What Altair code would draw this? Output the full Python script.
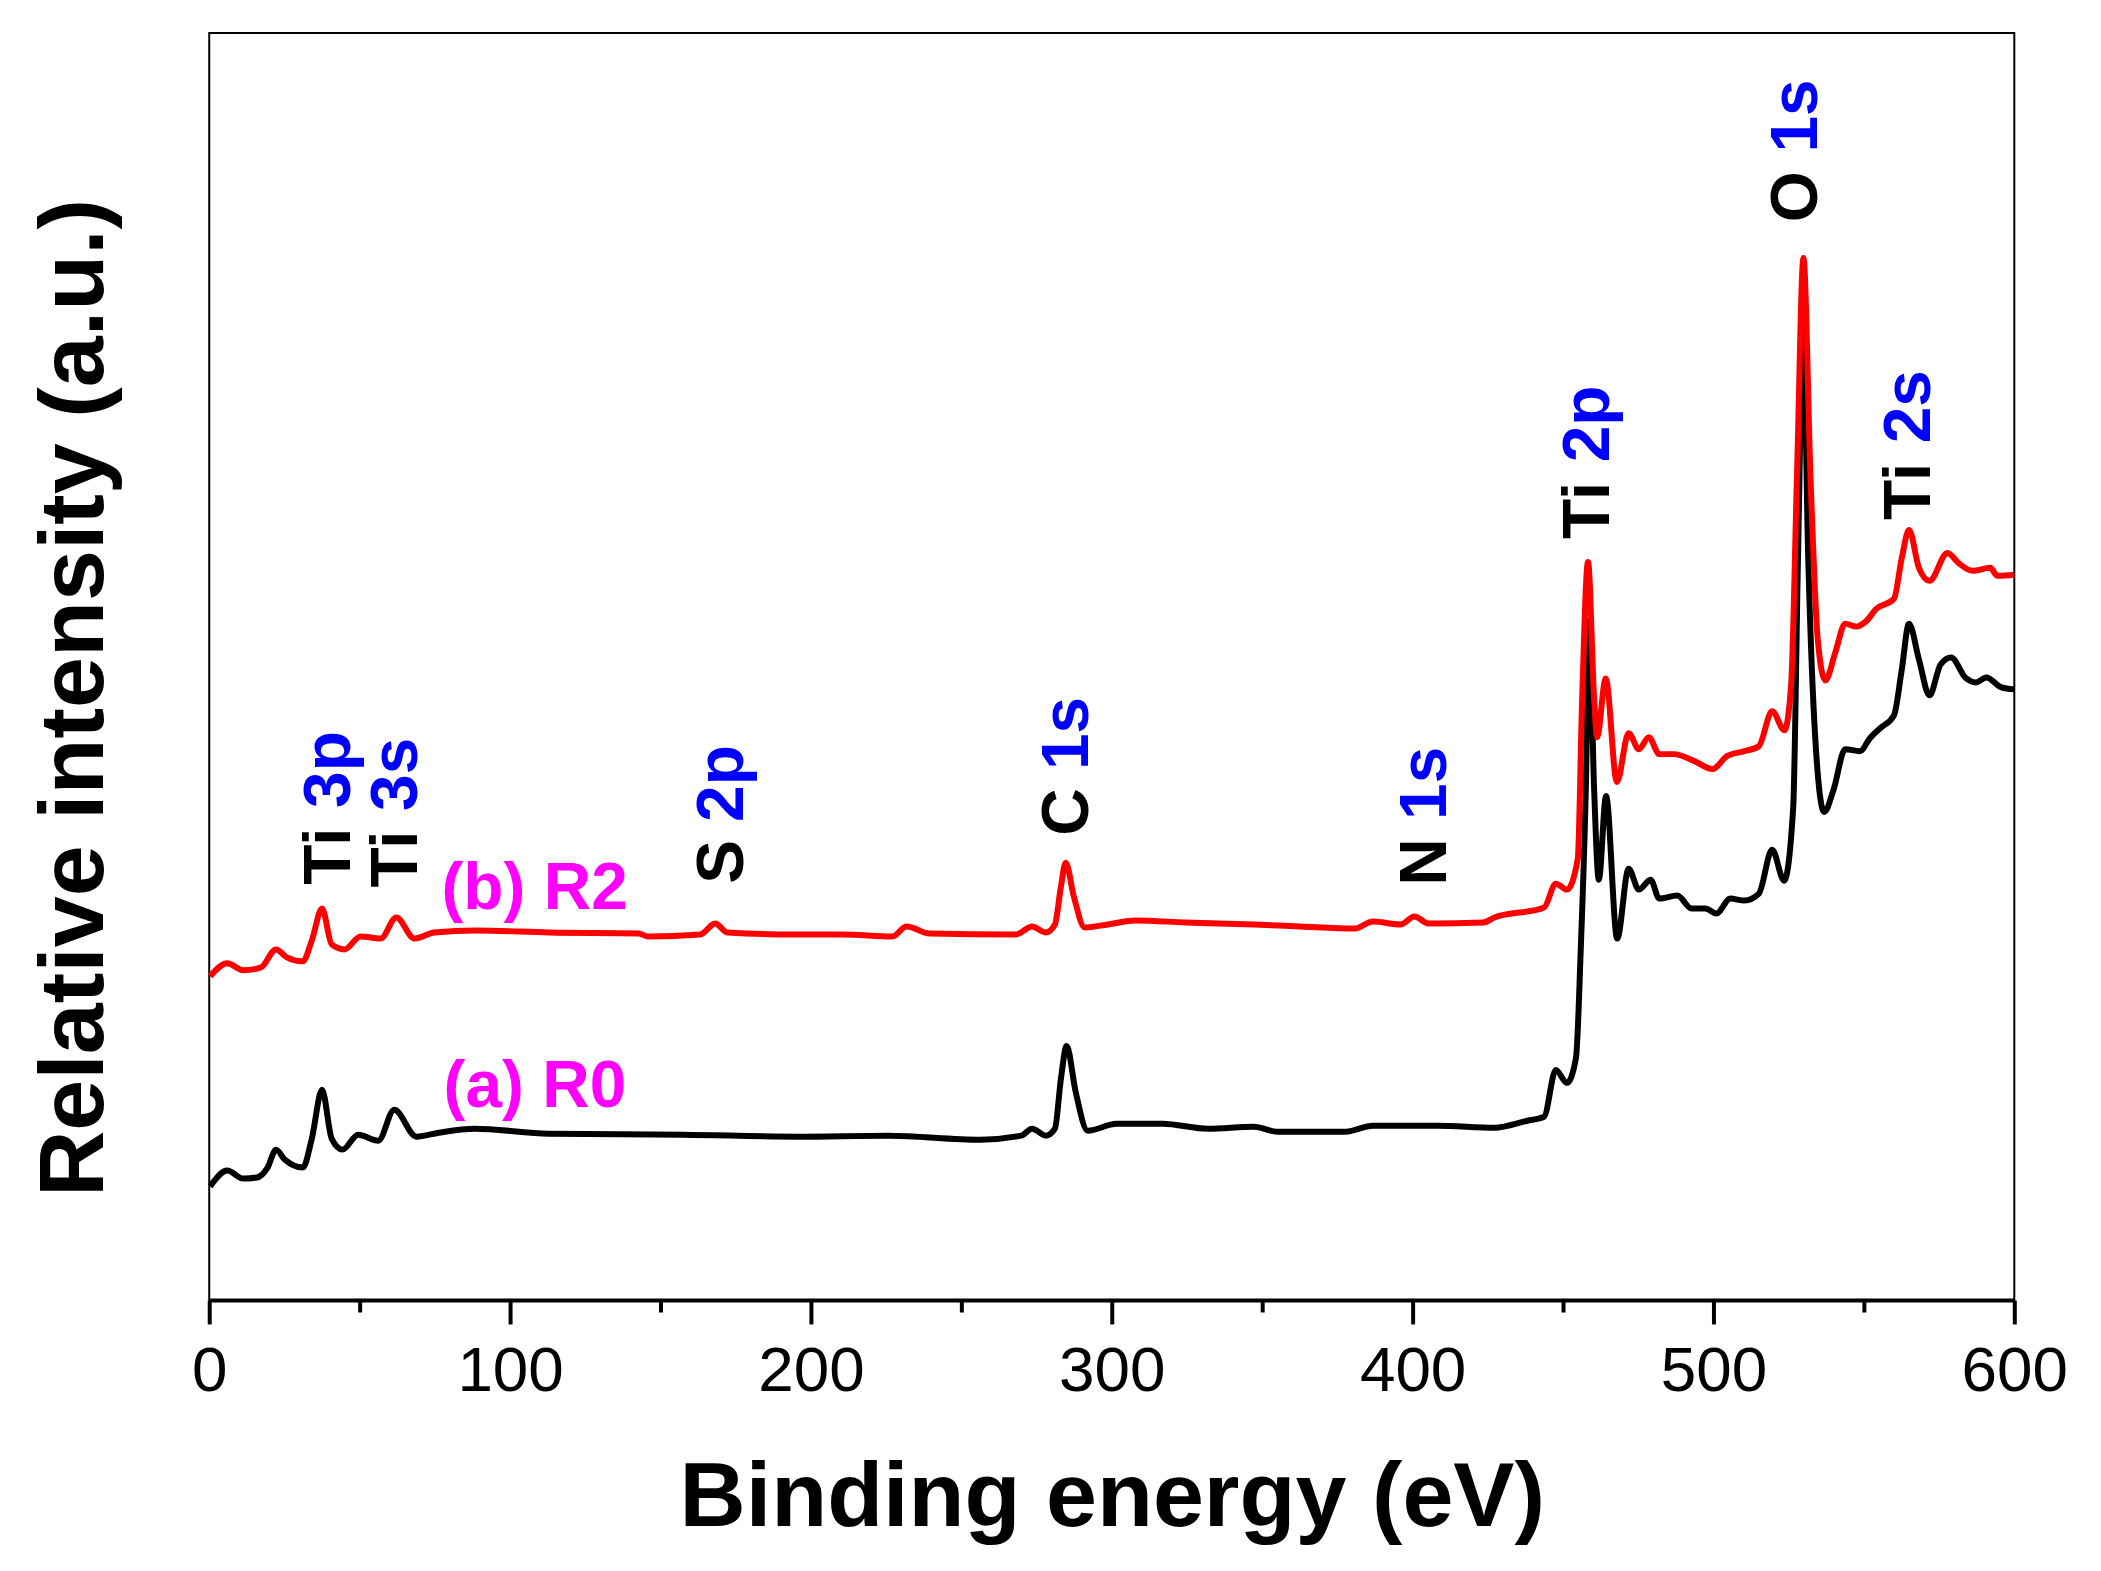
import altair as alt
import pandas as pd

# (a) R0 survey spectrum (binding energy in eV, intensity in a.u.)
r0_energy = [0.3, 6, 11.3, 15.8, 19.4, 22.2, 25.1, 31.1, 34.1, 37.5, 40.7, 44.3, 49.5, 56.2,
             61.5, 68.9, 76.3, 88.2, 113, 157.6, 195.4, 225.5, 256.3, 269.9, 273.5, 278.1,
             281.1, 283.1, 285, 288, 292, 301.6, 316.8, 332, 347.3, 354.9, 377.8, 386.8,
             408.3, 427.2, 438.1, 443.7, 447.6, 451.3, 454.3, 455.9, 457.6, 458.7, 460.3,
             461.9, 464.3, 468, 471.8, 475.2, 479.1, 482, 488, 492.7, 497.3, 501, 505.6,
             510.3, 515.1, 519.5, 523.5, 526.5, 528.1, 529.8, 531.5, 533.8, 536.8, 539.9,
             543.8, 548.7, 552, 555.4, 560, 562.6, 565, 568.3, 571.8, 575.5, 579, 583.7,
             587.3, 590.7, 595.7, 600]
r0_intensity = [114, 130, 122, 123, 133, 151, 141, 133, 162, 211, 162, 151, 166, 160,
                191, 164, 168, 172, 167, 166, 164, 165, 161, 165, 172, 165,
                172, 222, 255, 209, 170, 177, 177, 172, 174, 169, 169, 175,
                175, 173, 180, 184, 231, 218, 243, 353, 516, 682, 516,
                422, 506, 363, 433, 412, 422, 403, 406, 393, 393, 388, 403,
                401, 408, 452, 421, 494, 745, 972, 745, 566, 490, 512,
                553, 551, 564, 574, 587, 633, 679, 643, 607, 638, 645, 625,
                620, 625, 615, 613]

# (b) R2 survey spectrum
r2_energy = [0.3, 6, 11.3, 17.2, 22.2, 25.8, 31.1, 34.1, 37.5, 40.7, 45, 50.3, 57, 62.2,
             68.2, 74.8, 88.8, 113, 142.7, 145.7, 163.2, 168.2, 172.2, 195.4, 210.6, 227.1,
             231.8, 239.4, 268.2, 273.5, 278.1, 281.1, 283.1, 284.7, 287.4, 291, 298.7,
             307.9, 324.5, 347.3, 362.6, 380.8, 386.8, 396, 400.6, 405.3, 423.5, 427.2,
             443.7, 447.6, 451.3, 454.9, 456.3, 458.3, 460.3, 461.3, 464.2, 467.9, 471.8,
             475.2, 478.5, 482, 486.8, 493.7, 499.7, 504.5, 510.3, 515.1, 519.5, 523.6,
             525.8, 527.8, 529.9, 532.3, 534.7, 537.2, 540.5, 543.8, 547.5, 550.6, 554.2,
             560, 562.6, 565, 568.3, 571.8, 577.8, 581.4, 586.1, 592, 594.4, 600]
r2_intensity = [325, 338, 331, 334, 352, 344, 340, 361, 393, 357, 352, 365, 363, 384,
                363, 369, 371, 369, 368, 365, 367, 378, 369, 367, 367, 365,
                375, 368, 367, 375, 369, 377, 415, 439, 405, 374, 377,
                381, 379, 377, 375, 373, 380, 377, 385, 378, 379, 384,
                394, 418, 412, 443, 598, 741, 606, 565, 624, 520, 569,
                553, 565, 548, 548, 541, 533, 546, 551, 556, 591, 572,
                617, 832, 1046, 822, 662, 622, 650, 679, 676, 681, 694,
                704, 745, 773, 735, 722, 750, 740, 732, 735, 727, 728]

# peak labels: element (black) + level (blue), written upward
peak_element = ["Ti", "Ti", "S", "C", "N", "Ti", "O", "Ti"]
peak_level = ["3p", "3s", "2p", "1s", "1s", "2p", "1s", "2s"]
peak_x = [46.7, 68.9, 177.5, 292.0, 411.0, 465.2, 534.4, 571.9]
element_y = [417, 414, 418, 466, 416, 764, 1082, 783]
level_y = [494, 491, 480, 532, 482, 841, 1152, 860]

sample_names = ["(b) R2", "(a) R0"]
sample_x = [77.2, 77.9]
sample_y = [393, 194]

FONT = "Liberation Sans"

r0 = pd.DataFrame({"energy": r0_energy, "intensity": r0_intensity})
r2 = pd.DataFrame({"energy": r2_energy, "intensity": r2_intensity})
elements = pd.DataFrame({"energy": peak_x, "intensity": element_y, "text": peak_element})
levels = pd.DataFrame({"energy": peak_x, "intensity": level_y, "text": peak_level})
samples = pd.DataFrame({"energy": sample_x, "intensity": sample_y, "text": sample_names})

x_enc = alt.X(
    "energy:Q",
    scale=alt.Scale(domain=[0, 600], nice=False, zero=False),
    axis=alt.Axis(
        values=list(range(0, 601, 50)),
        labelExpr="datum.value % 100 === 0 ? datum.label : ''",
        tickSize={"condition": {"test": "datum.value % 100 === 0", "value": 24}, "value": 12},
        tickWidth=4,
        tickColor="black",
        domainColor="black",
        domainWidth=4,
        grid=False,
        labelFont=FONT,
        labelFontSize=64,
        labelColor="black",
        labelPadding=16,
        labelFlush=False,
        labelOverlap=False,
        title="Binding energy (eV)",
        titleFont=FONT,
        titleFontSize=92,
        titleFontWeight="bold",
        titleColor="black",
        titleX=906,
        titleY=226,
        titleAlign="center",
        titleBaseline="alphabetic",
    ),
)
y_enc = alt.Y(
    "intensity:Q",
    scale=alt.Scale(domain=[0, 1272], nice=False, zero=False),
    axis=alt.Axis(
        labels=False,
        ticks=False,
        domain=False,
        grid=False,
        title="Relative intensity (a.u.)",
        titleFont=FONT,
        titleFontSize=92,
        titleFontWeight="bold",
        titleColor="black",
        titleAngle=270,
        titleX=-107,
        titleY=667,
        titleAlign="center",
        titleBaseline="alphabetic",
    ),
)

line_r0 = alt.Chart(r0).mark_line(color="black", strokeWidth=6, interpolate="monotone").encode(
    x=x_enc, y=y_enc
)
line_r2 = alt.Chart(r2).mark_line(color="#ff0000", strokeWidth=6, interpolate="monotone").encode(
    x="energy:Q", y="intensity:Q"
)

label_style = dict(angle=270, align="left", baseline="alphabetic", font=FONT,
                   fontSize=66, fontWeight="bold")
element_text = alt.Chart(elements).mark_text(color="black", **label_style).encode(
    x="energy:Q", y="intensity:Q", text="text:N"
)
level_text = alt.Chart(levels).mark_text(color="#0000ff", **label_style).encode(
    x="energy:Q", y="intensity:Q", text="text:N"
)
sample_text = alt.Chart(samples).mark_text(
    color="#ff00ff", align="left", baseline="alphabetic", font=FONT, fontSize=66, fontWeight="bold"
).encode(x="energy:Q", y="intensity:Q", text="text:N")

chart = (
    alt.layer(line_r0, line_r2, element_text, level_text, sample_text)
    .properties(
        width=1812,
        height=1272,
        padding={"left": 202, "top": 22, "right": 79, "bottom": 269},
        autosize=alt.AutoSizeParams(type="none"),
        background="white",
    )
    .configure_view(stroke="black", strokeWidth=2)
)

chart.save("out.html", embed_options={"renderer": "svg", "actions": False})
